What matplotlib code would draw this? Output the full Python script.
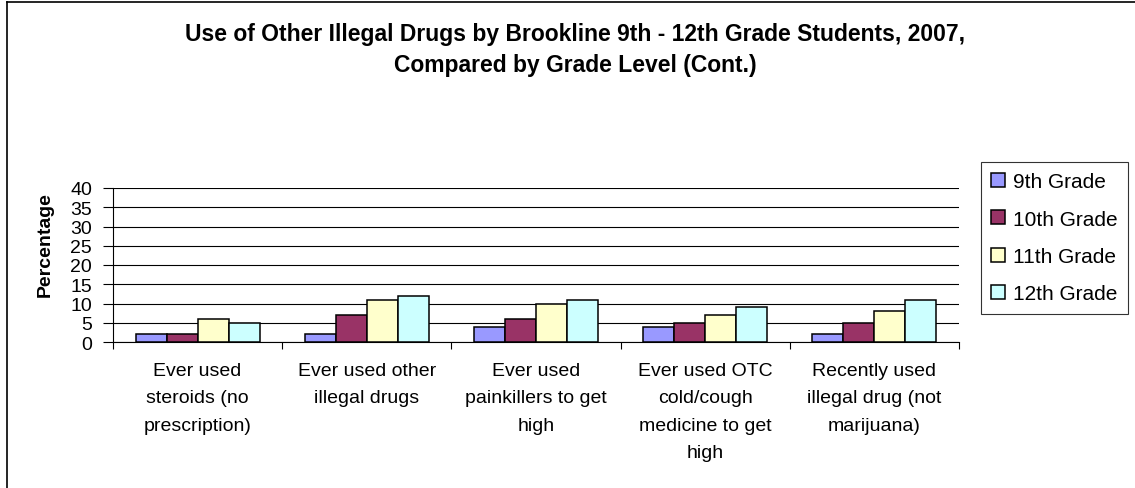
import matplotlib
matplotlib.use('Agg')
import matplotlib.pyplot as plt
import matplotlib.transforms as mtransforms
from matplotlib.lines import Line2D
import numpy as np

plt.rcParams['font.family'] = ['Liberation Sans', 'DejaVu Sans']

categories = ['Ever used\nsteroids (no\nprescription)',
              'Ever used other\nillegal drugs',
              'Ever used\npainkillers to get\nhigh',
              'Ever used OTC\ncold/cough\nmedicine to get\nhigh',
              'Recently used\nillegal drug (not\nmarijuana)']
grades = ['9th Grade', '10th Grade', '11th Grade', '12th Grade']
grade9 = [2, 2, 4, 4, 2]
grade10 = [2, 7, 6, 5, 5]
grade11 = [6, 11, 10, 7, 8]
grade12 = [5, 12, 11, 9, 11]
colors = ['#9999FF', '#993366', '#FFFFCC', '#CCFFFF']

W, H = 1135, 489
fig = plt.figure(figsize=(W / 100, H / 100), dpi=100)
ax = fig.add_axes([113 / W, (H - 343) / H, (959 - 113) / W, (343 - 189) / H])

x = np.arange(len(categories))
bw = 0.183
series = [grade9, grade10, grade11, grade12]
for k, vals in enumerate(series):
    ax.bar(x + (k - 1.5) * bw, vals, width=bw, color=colors[k],
           edgecolor='black', linewidth=1.1, label=grades[k], zorder=3)

ax.set_xlim(-0.5, len(categories) - 0.5)
ax.set_ylim(0, 40)
ax.set_yticks(range(0, 41, 5))
ax.yaxis.grid(True, color='black', linewidth=0.8)
ax.set_axisbelow(True)

# category boundaries get tick marks, names are drawn as text below
ax.set_xticks(np.arange(-0.5, len(categories), 1))
ax.set_xticklabels([])
ax.tick_params(axis='x', length=5, width=0.8, direction='out')
ax.tick_params(axis='y', length=7, width=0.8, labelsize=14, pad=8)

trans = mtransforms.blended_transform_factory(ax.transData, ax.transAxes)
for i, name in enumerate(categories):
    ax.text(x[i], -20 / 154, name, transform=trans, ha='center', va='top',
            fontsize=14, linespacing=1.8)

for s in ['top', 'right']:
    ax.spines[s].set_visible(False)
for s in ['left', 'bottom']:
    ax.spines[s].set_color('black')
    ax.spines[s].set_linewidth(0.8)

ax.set_ylabel('Percentage', fontsize=14, fontweight='bold', va='center')
ax.yaxis.set_label_coords((45 - 113) / (959 - 113), (343 - 245) / (343 - 189))

fig.text(575 / W, 1 - 50 / H,
         'Use of Other Illegal Drugs by Brookline 9th - 12th Grade Students, 2007,\nCompared by Grade Level (Cont.)',
         ha='center', va='center', fontsize=16.5, fontweight='bold', linespacing=1.45)

leg = fig.legend(loc='upper left', bbox_to_anchor=(981 / W, 1 - 163 / H),
                 frameon=True, fancybox=False, edgecolor='black', fontsize=15,
                 handlelength=0.65, handleheight=0.65, handletextpad=0.4,
                 labelspacing=0.88, borderpad=0.5, borderaxespad=0)
leg.get_frame().set_linewidth(0.8)

fig.add_artist(Line2D([7 / W, 7 / W], [0, 1 - 3 / H], color='black', linewidth=1.2))
fig.add_artist(Line2D([7 / W, 1], [1 - 3 / H, 1 - 3 / H], color='black', linewidth=1.2))

fig.savefig('out.png', dpi=100)
